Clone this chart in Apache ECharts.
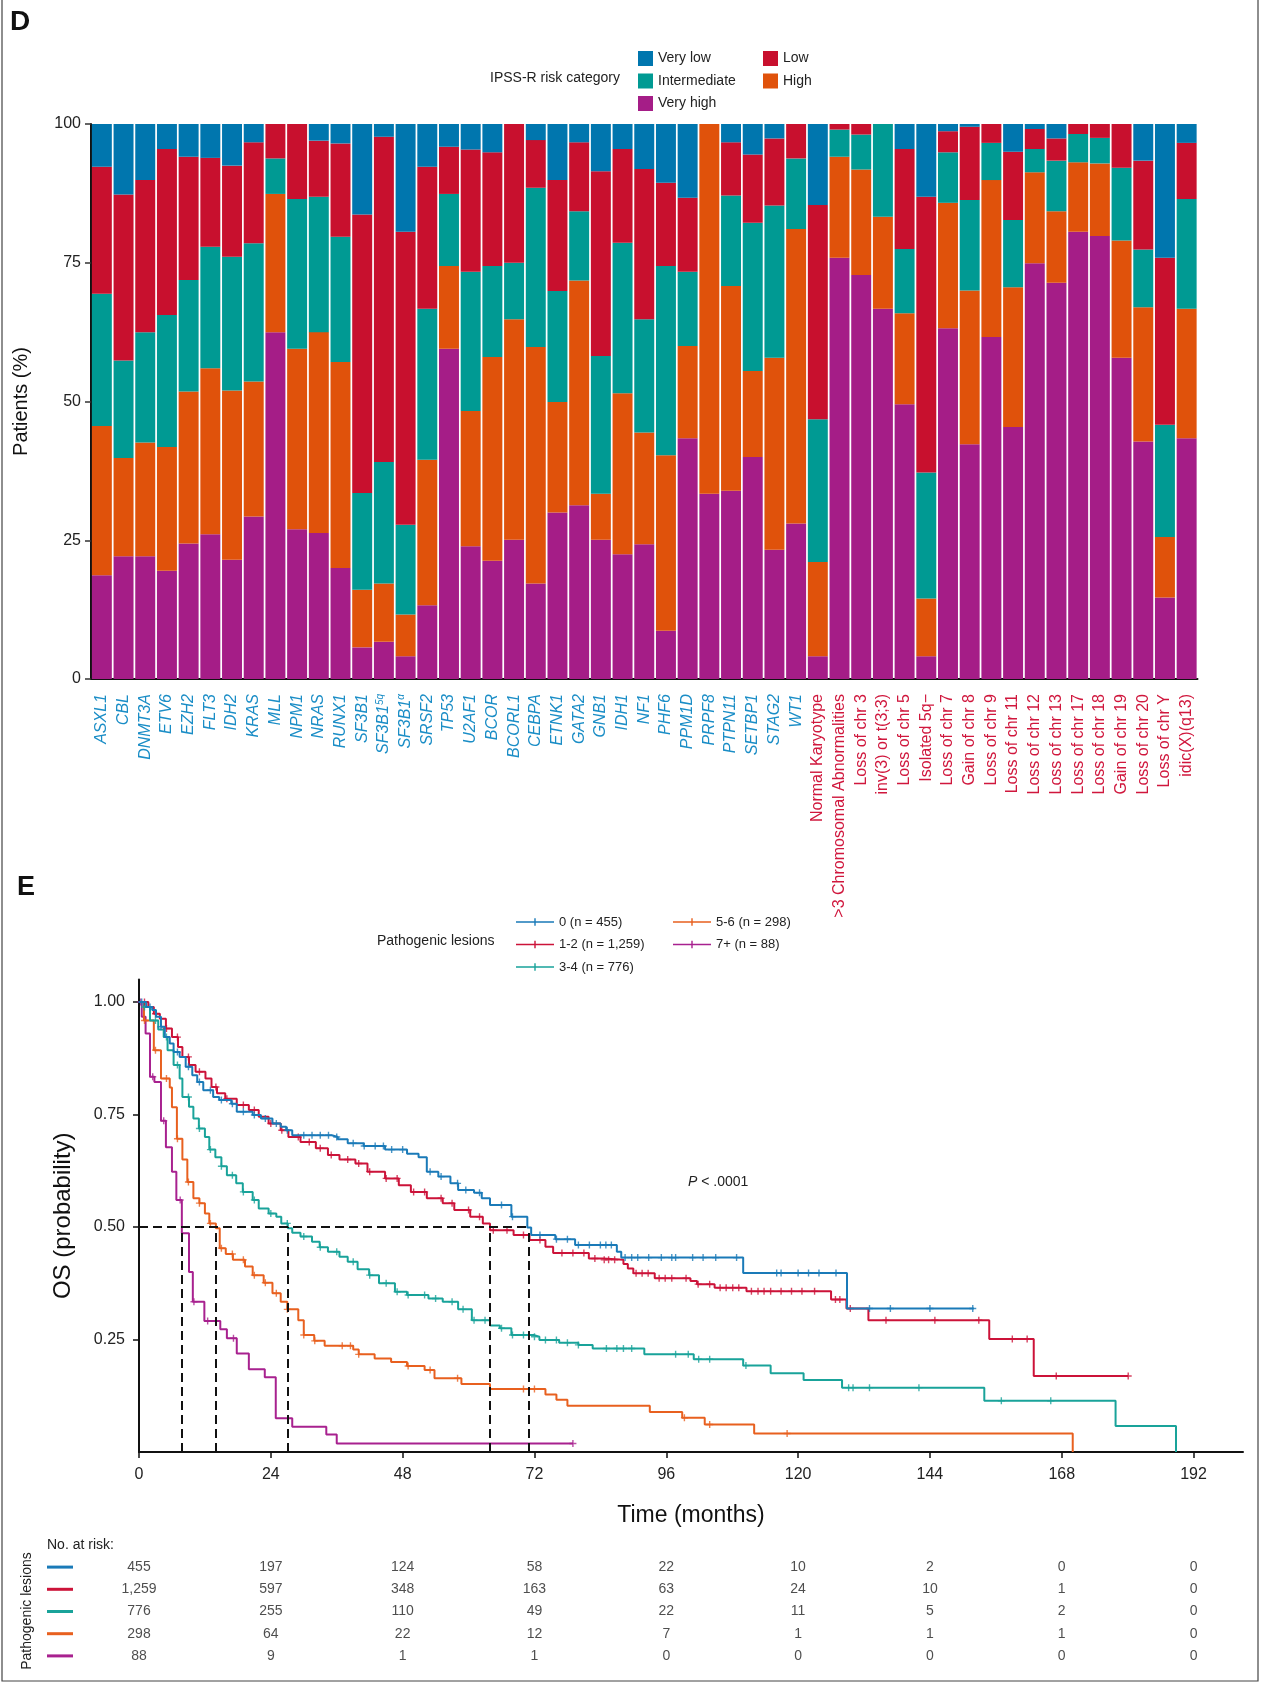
<!DOCTYPE html>
<html>
<head>
<meta charset="utf-8">
<script src="https://cdn.jsdelivr.net/npm/echarts@6/dist/echarts.min.js"></script>
<style>
  html, body { margin: 0; padding: 0; background: #fff; }
  #main { width: 1265px; height: 1683px; }
</style>
</head>
<body>
<div id="main"></div>
<script>
// ---- panel D: IPSS-R risk category by lesion (percent of patients) ----
const genes = ["ASXL1", "CBL", "DNMT3A", "ETV6", "EZH2", "FLT3", "IDH2", "KRAS", "MLL", "NPM1", "NRAS", "RUNX1",
  "SF3B1", "SF3B1^5q", "SF3B1^α", "SRSF2", "TP53", "U2AF1", "BCOR", "BCORL1", "CEBPA", "ETNK1", "GATA2", "GNB1",
  "IDH1", "NF1", "PHF6", "PPM1D", "PRPF8", "PTPN11", "SETBP1", "STAG2", "WT1"];
const cytogenetics = ["Normal Karyotype", ">3 Chromosomal Abnormalities", "Loss of chr 3", "inv(3) or t(3;3)",
  "Loss of chr 5", "Isolated 5q−", "Loss of chr 7", "Gain of chr 8", "Loss of chr 9", "Loss of chr 11",
  "Loss of chr 12", "Loss of chr 13", "Loss of chr 17", "Loss of chr 18", "Gain of chr 19", "Loss of chr 20",
  "Loss of chr Y", "idic(X)(q13)"];

const veryHigh = [18.7, 22.1, 22.1, 19.5, 24.4, 26.1, 21.5, 29.3, 62.5, 27.0, 26.3, 20.0, 5.7, 6.7, 4.1, 13.3, 59.5,
  23.9, 21.3, 25.1, 17.2, 30.0, 31.3, 25.1, 22.5, 24.3, 8.7, 43.4, 33.4, 33.9, 40.0, 23.3, 28.0, 4.1, 75.9, 72.8,
  66.7, 49.5, 4.1, 63.2, 42.3, 61.6, 45.4, 74.9, 71.4, 80.6, 79.8, 57.9, 42.8, 14.7, 43.4];
const high = [26.9, 17.7, 20.5, 22.3, 27.4, 29.9, 30.5, 24.3, 24.9, 32.5, 36.2, 37.1, 10.4, 10.5, 7.5, 26.2, 14.9,
  24.4, 36.7, 39.7, 42.6, 19.9, 40.5, 8.3, 29.0, 20.1, 31.6, 16.6, 66.6, 36.9, 15.5, 34.6, 53.1, 17.0, 18.2, 19.0,
  16.6, 16.4, 10.4, 22.6, 27.7, 28.3, 25.2, 16.4, 12.9, 12.5, 13.1, 21.1, 24.2, 10.9, 23.3];
const intermediate = [23.8, 17.6, 19.9, 23.8, 20.1, 21.9, 24.1, 24.9, 6.4, 27.0, 24.4, 22.6, 17.4, 21.9, 16.2, 27.2,
  13.0, 25.1, 16.4, 10.2, 28.7, 20.0, 12.5, 24.8, 27.1, 20.4, 34.1, 13.4, 0, 16.3, 26.7, 27.4, 12.7, 25.7, 4.9, 6.3,
  16.7, 11.6, 22.7, 9.1, 16.3, 6.7, 12.1, 4.2, 9.1, 5.1, 4.6, 13.1, 10.4, 20.2, 19.8];
const low = [22.9, 29.9, 27.4, 29.9, 22.2, 16.0, 16.4, 18.2, 6.2, 13.5, 10.1, 16.8, 50.2, 58.6, 52.8, 25.6, 8.5,
  22.0, 20.5, 25.0, 8.6, 20.0, 12.4, 33.3, 16.9, 27.1, 15.0, 13.3, 0, 9.6, 12.3, 12.1, 6.2, 38.6, 1.0, 1.9, 0, 18.0,
  49.7, 3.8, 13.2, 3.4, 12.3, 3.6, 4.0, 1.8, 2.5, 7.9, 16.0, 30.1, 10.1];
const veryLow = [7.7, 12.7, 10.1, 4.5, 5.9, 6.1, 7.5, 3.3, 0, 0, 3.0, 3.5, 16.3, 2.3, 19.4, 7.7, 4.1, 4.6, 5.1, 0,
  2.9, 10.1, 3.3, 8.5, 4.5, 8.1, 10.6, 13.3, 0, 3.3, 5.5, 2.6, 0, 14.6, 0, 0, 0, 4.5, 13.1, 1.3, 0.5, 0, 5.0, 0.9,
  2.6, 0, 0, 0, 6.6, 24.1, 3.4];
const pctTicks = [0, 25, 50, 75, 100];

// ---- panel E: overall survival by number of pathogenic lesions ----
// [month, survival probability] at each step of the curve
const os0 = [[0, 1.0], [1.3, 0.989], [2.4, 0.982], [3.1, 0.967], [4.0, 0.945], [4.7, 0.922], [5.6, 0.908],
  [6.3, 0.889], [7.4, 0.878], [8.5, 0.856], [9.7, 0.837], [10.6, 0.822], [11.7, 0.804], [13.5, 0.789],
  [14.6, 0.782], [16.8, 0.774], [17.8, 0.756], [20.7, 0.749], [22.2, 0.741], [24.3, 0.73], [25.8, 0.723],
  [26.8, 0.715], [27.9, 0.704], [35.1, 0.70], [36.2, 0.695], [38, 0.686], [40.9, 0.680], [44.8, 0.672],
  [48.8, 0.663], [50.9, 0.655], [52.4, 0.623], [54.5, 0.612], [56.7, 0.597], [58.1, 0.582], [61, 0.576],
  [62.4, 0.564], [63.9, 0.549], [67.8, 0.523], [70.7, 0.499], [71.4, 0.482], [75.8, 0.473], [79.4, 0.46],
  [87.0, 0.445], [87.8, 0.432], [110, 0.398], [128.9, 0.319], [152, 0.319]];
const os12 = [[0, 1.0], [1.7, 0.989], [2.7, 0.974], [3.8, 0.963], [4.9, 0.941], [6.0, 0.922], [7.1, 0.900],
  [7.9, 0.878], [9.1, 0.860], [10.3, 0.845], [12.1, 0.830], [13.2, 0.811], [14.2, 0.797], [15.7, 0.785],
  [17.8, 0.771], [20.0, 0.76], [21.8, 0.745], [23.6, 0.73], [25.8, 0.715], [27.2, 0.70], [29.4, 0.689],
  [32.2, 0.675], [34.4, 0.66], [36.5, 0.65], [39.4, 0.641], [41.6, 0.623], [44.8, 0.608], [47.3, 0.593],
  [49.5, 0.578], [52.4, 0.564], [55.3, 0.553], [57.4, 0.538], [60.3, 0.523], [62.6, 0.508], [63.9, 0.493],
  [68.2, 0.482], [71.1, 0.471], [74, 0.456], [75.4, 0.442], [81.9, 0.43], [84.5, 0.427], [88.2, 0.418],
  [89, 0.408], [90, 0.397], [93.9, 0.386], [100.4, 0.380], [101.6, 0.373], [104.8, 0.365], [110.6, 0.357],
  [126, 0.339], [128.8, 0.319], [132.8, 0.293], [154.8, 0.251], [162.9, 0.169], [180.1, 0.169]];
const os34 = [[0, 1.0], [0.9, 0.989], [2.0, 0.959], [3.5, 0.939], [4.5, 0.922], [5.2, 0.893], [6.3, 0.86],
  [7.4, 0.83], [7.9, 0.789], [9.1, 0.767], [9.9, 0.741], [10.9, 0.719], [12.0, 0.70], [12.8, 0.672],
  [13.9, 0.655], [15.0, 0.635], [16.0, 0.615], [17.7, 0.597], [18.9, 0.578], [20.7, 0.56], [21.8, 0.541],
  [23.6, 0.530], [25.0, 0.523], [25.9, 0.508], [27.1, 0.497], [27.9, 0.487], [29.4, 0.479], [31.5, 0.467],
  [32.9, 0.455], [34.4, 0.445], [36.5, 0.434], [38, 0.423], [39.8, 0.406], [41.9, 0.393], [43.7, 0.375],
  [46.6, 0.356], [48.8, 0.349], [52.7, 0.341], [55.3, 0.334], [58.1, 0.317], [60.6, 0.293], [63.9, 0.281],
  [65.7, 0.275], [67.8, 0.26], [71.8, 0.256], [72.9, 0.249], [76.5, 0.243], [80, 0.238], [82.6, 0.23],
  [92, 0.217], [101, 0.206], [110, 0.192], [115, 0.175], [121, 0.160], [128, 0.143], [153.9, 0.114],
  [177.8, 0.058], [188.8, 0]];
const os56 = [[0, 1.0], [0.9, 0.959], [2.7, 0.893], [4.0, 0.83], [5.6, 0.81], [6.0, 0.766], [6.9, 0.696],
  [7.9, 0.65], [8.8, 0.60], [9.9, 0.564], [11.0, 0.553], [12.0, 0.53], [12.8, 0.508], [14.0, 0.497],
  [14.7, 0.453], [15.8, 0.44], [17.1, 0.427], [19.3, 0.412], [20.7, 0.393], [22.7, 0.376], [24.3, 0.353],
  [25.8, 0.334], [27.0, 0.317], [29, 0.293], [30, 0.26], [31.9, 0.247], [33.8, 0.236], [39, 0.228], [40, 0.217],
  [42.9, 0.208], [45.9, 0.200], [48.8, 0.191], [52, 0.182], [53.8, 0.164], [58.7, 0.151], [63.9, 0.14],
  [74, 0.128], [76, 0.116], [78, 0.103], [93, 0.089], [98.9, 0.076], [103, 0.061], [112, 0.041], [170, 0]];
const os7 = [[0, 1.0], [0.5, 0.967], [1.2, 0.93], [2.0, 0.834], [2.8, 0.822], [4.0, 0.736], [4.9, 0.677],
  [6.0, 0.623], [6.8, 0.56], [7.8, 0.486], [9.1, 0.40], [9.8, 0.334], [11.9, 0.291], [14.8, 0.273], [16.0, 0.253],
  [17.8, 0.219], [20.0, 0.184], [22.9, 0.166], [24.9, 0.075], [27.9, 0.056], [34.1, 0.039], [36.0, 0.019],
  [79, 0.019]];

// censored observations (months)
const censor0 = [0.5, 2, 4, 7, 9, 11, 13, 15, 17, 19, 21, 23, 25, 27, 30, 31.5, 33, 34.5, 36, 39, 41, 43, 44.5,
  46, 48, 53, 55, 58, 59.5, 62, 66, 68, 73, 76, 78, 80, 82, 84, 85, 86, 88.5, 89.7, 90.8, 92.8, 95.1, 97, 97.7,
  100.8, 102.7, 105, 108.8, 116.1, 116.9, 120, 121.9, 123.8, 126.9, 133, 136.8, 144, 151.8];
const censor12 = [1, 3, 5, 7, 9, 11, 14, 16, 19, 21, 24, 26, 29, 31, 33, 35, 38, 40, 42, 45, 47, 50, 52, 55, 57,
  60, 62, 64.5, 67, 70, 73, 77, 79, 81, 83, 84.7, 85.5, 86.6, 90.5, 91.6, 92.7, 94.7, 95.8, 97, 99.6, 101.8, 103.9,
  105.8, 106.9, 108.1, 109.2, 111.5, 112.7, 113.8, 115, 116.9, 118.8, 120.7, 123, 126.8, 127.6, 129.5, 136, 144.9,
  152.9, 159, 161.7, 167, 180.1];
const censor34 = [1, 3, 5, 7, 9, 11, 13, 15, 17, 19, 21, 24, 27, 30, 33, 36, 39, 42, 45, 47, 49, 52, 54, 57, 59, 61,
  63, 66, 68, 70, 72, 74, 76, 78, 80, 85.1, 87, 88.2, 89.7, 97.7, 100, 101.9, 103.9, 110.5, 129.2, 130, 133, 142,
  157, 166];
const censor56 = [1, 3, 5, 7, 9, 11, 13, 15, 17, 19, 21, 23, 25, 27, 30, 32, 37, 38.5, 40, 49, 53, 58, 70, 72,
  99.3, 103.9, 118];
const censor7 = [0.3, 2.5, 4.5, 7.5, 10, 12.5, 14, 17.2, 79];

const medians = [7.8, 14.0, 27.0, 63.9, 70.9];
const timeTicks = [0, 24, 48, 72, 96, 120, 144, 168, 192];
const probTicks = [0.25, 0.5, 0.75, 1.0];

// number at risk at each time tick
const atRisk0 = [455, 197, 124, 58, 22, 10, 2, 0, 0];
const atRisk12 = [1259, 597, 348, 163, 63, 24, 10, 1, 0];
const atRisk34 = [776, 255, 110, 49, 22, 11, 5, 2, 0];
const atRisk56 = [298, 64, 22, 12, 7, 1, 1, 1, 0];
const atRisk7 = [88, 9, 1, 1, 0, 0, 0, 0, 0];

const kmNames = ["0 (n = 455)", "1-2 (n = 1,259)", "3-4 (n = 776)", "5-6 (n = 298)", "7+ (n = 88)"];

// ---- styling ----
const FONT = "'Liberation Sans', Arial, sans-serif";
const riskColors = {
  "Very low": "#0076ae",
  "Low": "#c8102e",
  "Intermediate": "#009a93",
  "High": "#e0520b",
  "Very high": "#a51d87",
};
const kmColors = ["#1a7ab8", "#cc1339", "#19a39a", "#e8601f", "#a8218f"];
const geneColor = "#1a8dc6";
const cytoColor = "#d0173d";
const plusIcon = "path://M4,0 H6 V10 H4 Z M0,4 H10 V6 H0 Z";
const legendLineIcon = "path://M0,3 L38,3 L38,4.4 L0,4.4 Z M18.3,0 L19.7,0 L19.7,7.4 L18.3,7.4 Z";

function survivalAt(steps, t) {
  let s = steps[0][1];
  for (const [x, y] of steps) {
    if (x <= t) s = y;
    else break;
  }
  return s;
}

function initChart() {
  const categories = genes.concat(cytogenetics);
  const curves = [os0, os12, os34, os56, os7];
  const censors = [censor0, censor12, censor34, censor56, censor7];
  const atRisk = [atRisk0, atRisk12, atRisk34, atRisk56, atRisk7];

  const barStack = [
    ["Very high", veryHigh],
    ["High", high],
    ["Intermediate", intermediate],
    ["Low", low],
    ["Very low", veryLow],
  ];
  const barSeries = barStack.map(([name, values]) => ({
    name,
    type: "bar",
    stack: "ipss",
    xAxisIndex: 0,
    yAxisIndex: 0,
    barCategoryGap: "8%",
    data: values,
    itemStyle: { color: riskColors[name] },
  }));

  const kmSeries = [];
  curves.forEach((steps, i) => {
    kmSeries.push({
      name: kmNames[i],
      type: "line",
      step: "end",
      xAxisIndex: 1,
      yAxisIndex: 1,
      data: steps,
      showSymbol: false,
      symbol: "none",
      lineStyle: { color: kmColors[i], width: 2 },
      itemStyle: { color: kmColors[i] },
      z: 5 - i,
    });
    kmSeries.push({
      name: kmNames[i],
      type: "scatter",
      xAxisIndex: 1,
      yAxisIndex: 1,
      symbol: plusIcon,
      symbolSize: 7,
      data: censors[i].map((t) => [t, survivalAt(steps, t)]),
      itemStyle: { color: kmColors[i] },
      z: 5 - i,
    });
  });

  const medianLines = [[{ coord: [0, 0.5] }, { coord: [Math.max(...medians), 0.5] }]].concat(
    medians.map((m) => [{ coord: [m, 0] }, { coord: [m, 0.5] }])
  );
  kmSeries.push({
    type: "line",
    xAxisIndex: 1,
    yAxisIndex: 1,
    data: [[0, 0.5]],
    symbol: "none",
    lineStyle: { opacity: 0 },
    silent: true,
    z: 10,
    markLine: {
      symbol: "none",
      silent: true,
      label: { show: false },
      lineStyle: { color: "#111", type: [9, 5], width: 2 },
      data: medianLines,
    },
  });

  const riskPoints = [];
  atRisk.forEach((row, g) => {
    row.forEach((n, k) => riskPoints.push([timeTicks[k], g, n]));
  });
  const riskRich = {};
  kmColors.forEach((c, i) => {
    riskRich["k" + i] = { backgroundColor: c, width: 26, height: 3 };
  });

  const myChart = echarts.init(document.getElementById("main"));
  const option = {
    animation: false,
    textStyle: { fontFamily: FONT },
    legend: [
      {
        data: ["Very low", "Intermediate", "Very high"],
        left: 633, top: 46, orient: "vertical",
        icon: "rect", itemWidth: 15, itemHeight: 15, itemGap: 7.5,
        textStyle: { fontSize: 14, lineHeight: 15, color: "#222" },
      },
      {
        data: ["Low", "High"],
        left: 758, top: 46, orient: "vertical",
        icon: "rect", itemWidth: 15, itemHeight: 15, itemGap: 7.5,
        textStyle: { fontSize: 14, lineHeight: 15, color: "#222" },
      },
      {
        data: kmNames.slice(0, 3),
        left: 511, top: 909, orient: "vertical",
        icon: legendLineIcon, itemWidth: 38, itemHeight: 7.4, itemGap: 6.5,
        textStyle: { fontSize: 13, lineHeight: 16, color: "#222" },
      },
      {
        data: kmNames.slice(3),
        left: 668, top: 909, orient: "vertical",
        icon: legendLineIcon, itemWidth: 38, itemHeight: 7.4, itemGap: 6.5,
        textStyle: { fontSize: 13, lineHeight: 16, color: "#222" },
      },
    ],
    grid: [
      { left: 91, top: 124, width: 1106.5, height: 555 },
      { left: 139, top: 979.5, width: 1104, height: 472.5 },
      { left: 139, top: 1556, width: 1104, height: 111 },
    ],
    xAxis: [
      {
        type: "category",
        gridIndex: 0,
        data: categories,
        axisLine: { lineStyle: { color: "#111", width: 2 } },
        axisTick: { alignWithLabel: true, length: 6, lineStyle: { color: "#333", width: 1.5 } },
        axisLabel: {
          interval: 0,
          rotate: 90,
          margin: 15,
          formatter: (v, i) => {
            const [base, sup] = v.split("^");
            const k = i < genes.length ? "g" : "c";
            return sup ? `{${k}|${base}}{${k}s|${sup}}` : `{${k}|${base}}`;
          },
          rich: {
            g: { fontFamily: FONT, fontSize: 16, fontStyle: "italic", color: geneColor, lineHeight: 18 },
            gs: { fontFamily: FONT, fontSize: 10, fontStyle: "italic", color: geneColor, verticalAlign: "top" },
            c: { fontFamily: FONT, fontSize: 16, color: cytoColor, lineHeight: 18 },
          },
        },
      },
      {
        type: "value",
        gridIndex: 1,
        min: 0,
        max: 201,
        name: "Time (months)",
        nameLocation: "middle",
        nameGap: 52,
        nameTextStyle: { fontSize: 23, color: "#111" },
        splitLine: { show: false },
        axisLine: { lineStyle: { color: "#111", width: 2 } },
        axisTick: { customValues: timeTicks, length: 6, lineStyle: { color: "#111", width: 1.5 } },
        axisLabel: { customValues: timeTicks, fontSize: 16, color: "#222", margin: 15 },
      },
      {
        type: "value",
        gridIndex: 2,
        min: 0,
        max: 201,
        show: false,
      },
    ],
    yAxis: [
      {
        type: "value",
        gridIndex: 0,
        min: 0,
        max: 100,
        interval: 25,
        name: "Patients (%)",
        nameLocation: "middle",
        nameGap: 60,
        nameTextStyle: { fontSize: 20, color: "#111" },
        splitLine: { show: false },
        axisLine: { show: true, lineStyle: { color: "#111", width: 2 } },
        axisTick: { show: true, length: 6, lineStyle: { color: "#333", width: 1.5 } },
        axisLabel: { customValues: pctTicks, fontSize: 16, color: "#222", margin: 10 },
      },
      {
        type: "value",
        gridIndex: 1,
        min: 0,
        max: 1.05,
        name: "OS (probability)",
        nameLocation: "middle",
        nameGap: 64,
        nameTextStyle: { fontSize: 24, color: "#111" },
        splitLine: { show: false },
        axisLine: { show: true, lineStyle: { color: "#111", width: 2 } },
        axisTick: { show: true, customValues: probTicks, length: 6, lineStyle: { color: "#111", width: 1.5 } },
        axisLabel: {
          customValues: probTicks,
          fontSize: 16,
          color: "#222",
          margin: 14,
          formatter: (v) => v.toFixed(2),
        },
      },
      {
        type: "category",
        gridIndex: 2,
        data: kmNames,
        inverse: true,
        axisLine: { show: false },
        axisTick: { show: false },
        axisLabel: { margin: 66, formatter: (v, i) => `{k${i}|}`, rich: riskRich },
      },
    ],
    series: barSeries.concat(kmSeries, [
      {
        type: "scatter",
        xAxisIndex: 2,
        yAxisIndex: 2,
        data: riskPoints,
        symbolSize: 0,
        silent: true,
        label: {
          show: true,
          position: "inside",
          fontSize: 14,
          color: "#222",
          formatter: (p) => p.value[2].toLocaleString("en-US"),
        },
      },
    ]),
    graphic: [
      {
        type: "rect", silent: true,
        shape: { x: 2, y: -5, width: 1256, height: 1686 },
        style: { fill: "none", stroke: "#444", lineWidth: 1.2 },
      },
      { type: "text", x: 10, y: 8, style: { text: "D", fontSize: 28, fontWeight: "bold", fontFamily: FONT, fill: "#111" } },
      { type: "text", x: 17, y: 874, style: { text: "E", fontSize: 27, fontWeight: "bold", fontFamily: FONT, fill: "#111" } },
      {
        type: "text", x: 490, y: 78.5,
        style: { text: "IPSS-R risk category", fontSize: 14, fontFamily: FONT, fill: "#222", textVerticalAlign: "middle" },
      },
      {
        type: "text", x: 377, y: 941,
        style: { text: "Pathogenic lesions", fontSize: 14, fontFamily: FONT, fill: "#222", textVerticalAlign: "middle" },
      },
      {
        type: "text", x: 688, y: 1182,
        style: {
          text: "{i|P} < .0001", fontSize: 14, fontFamily: FONT, fill: "#222", textVerticalAlign: "middle",
          rich: { i: { fontStyle: "italic", fontSize: 14, fontFamily: FONT, fill: "#222" } },
        },
      },
      {
        type: "text", x: 47, y: 1545,
        style: { text: "No. at risk:", fontSize: 14, fontFamily: FONT, fill: "#222", textVerticalAlign: "middle" },
      },
      {
        type: "text", x: 27, y: 1611, rotation: Math.PI / 2,
        style: {
          text: "Pathogenic lesions", fontSize: 14, fontFamily: FONT, fill: "#222",
          textAlign: "center", textVerticalAlign: "middle",
        },
      },
    ],
  };

  myChart.setOption(option);
}

initChart();
</script>
</body>
</html>
